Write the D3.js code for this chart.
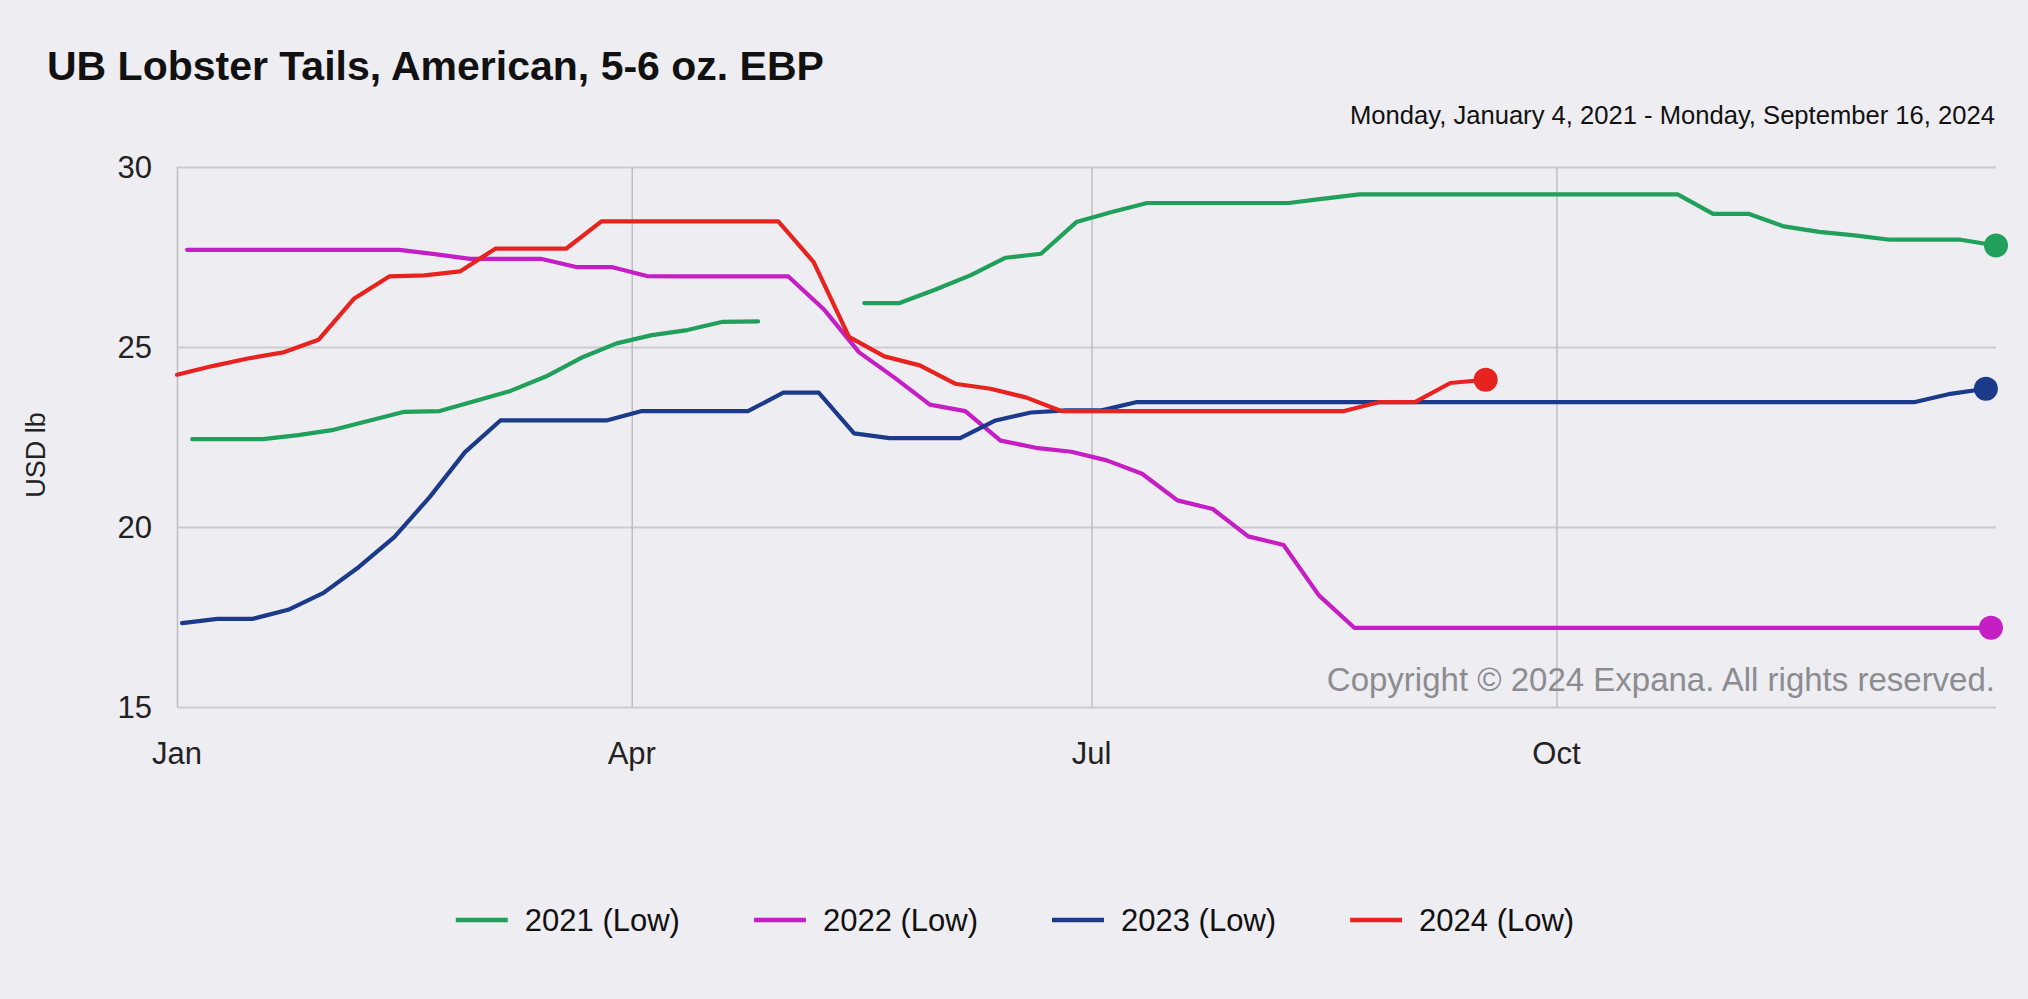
<!DOCTYPE html>
<html><head><meta charset="utf-8">
<script src="https://cdn.jsdelivr.net/npm/d3@7"></script>
<style>
html,body{margin:0;padding:0;background:#EEEDF2;}
svg{display:block;}
text{font-family:"Liberation Sans", Arial, sans-serif;}
</style></head><body>
<svg id="chart" width="2028" height="999"></svg>
<script>
// ---- data ----
const seriesNames = ["2021 (Low)", "2022 (Low)", "2023 (Low)", "2024 (Low)"];
const seriesColors = ["#20a05a", "#c41ec4", "#1b3a8a", "#e8231f"];
const seriesStart = ["2021-01-04", "2022-01-03", "2023-01-02", "2024-01-01"]; // weekly Mondays
const values2021 = [22.44,22.44,22.44,22.55,22.7,22.95,23.2,23.22,23.5,23.78,24.18,24.7,25.1,25.33,25.47,25.7,25.71,null,null,
  26.22,26.22,26.59,26.99,27.48,27.59,28.47,28.75,29.0,29.0,29.0,29.0,29.0,29.12,
  29.24,29.24,29.24,29.24,29.24,29.24,29.24,29.24,29.24,29.24,
  28.7,28.7,28.35,28.2,28.1,27.98,27.98,27.98,27.82];
const values2022 = [27.7,27.7,27.7,27.7,27.7,27.7,27.7,27.58,27.45,27.45,27.45,27.22,27.22,26.97,26.96,26.96,26.96,26.96,
  26.05,24.85,24.15,23.4,23.22,22.4,22.2,22.09,21.85,21.48,20.74,20.5,19.74,19.5,18.1,17.2,
  17.2,17.2,17.2,17.2,17.2,17.2,17.2,17.2,17.2,17.2,17.2,17.2,17.2,17.2,17.2,17.2,17.2,17.2];
const values2023 = [17.33,17.45,17.45,17.7,18.17,18.89,19.72,20.83,22.08,22.96,22.96,22.96,22.96,23.22,23.22,23.22,23.22,
  23.73,23.73,22.6,22.47,22.47,22.47,22.96,23.18,23.24,23.24,23.47,
  23.47,23.47,23.47,23.47,23.47,23.47,23.47,23.47,23.47,23.47,23.47,23.47,23.47,23.47,23.47,23.47,23.47,23.47,23.47,23.47,23.47,23.47,
  23.7,23.84];
const values2024 = [24.23,24.47,24.68,24.85,25.2,26.34,26.96,26.99,27.1,27.73,27.73,27.73,
  28.49,28.49,28.49,28.49,28.49,28.49,27.36,25.28,24.74,24.49,23.98,23.84,23.6,23.22,
  23.22,23.22,23.22,23.22,23.22,23.22,23.22,23.22,23.47,23.47,24.0,24.09];
const monthTickLabels = ["Jan", "Apr", "Jul", "Oct"];
const monthTickMonths = [0, 3, 6, 9];
const yTicks = [15, 20, 25, 30];
const titleText = "UB Lobster Tails, American, 5-6 oz. EBP";
const subtitleText = "Monday, January 4, 2021 - Monday, September 16, 2024";
const yAxisTitle = "USD lb";
const copyrightText = "Copyright \u00A9 2024 Expana. All rights reserved.";

// ---- build ----
const allValues = [values2021, values2022, values2023, values2024];
const parse = d3.utcParse("%Y-%m-%d");
const series = seriesNames.map((name, i) => {
  const start = parse(seriesStart[i]);
  const pts = allValues[i].map((v, k) => {
    const date = d3.utcDay.offset(start, 7 * k);
    return { doy: d3.utcDay.count(d3.utcYear(date), date), v };
  });
  return { name, color: seriesColors[i], pts };
});

const svg = d3.select("#chart");
const W = 2028, H = 999;
const m = { left: 177, right: 2028 - 1996, top: 167, bottom: 999 - 707 };

const maxDoy = d3.max(series, s => d3.max(s.pts, p => p.doy));
const x = d3.scaleLinear().domain([0, maxDoy]).range([m.left, W - m.right]);
const y = d3.scaleLinear().domain([15, 30]).range([H - m.bottom, m.top]);

const refYear = Date.UTC(2021, 0, 1);
const tickDoy = monthTickMonths.map(mo => d3.utcDay.count(new Date(refYear), new Date(Date.UTC(2021, mo, 1))));

// horizontal gridlines
svg.append("g").attr("transform", `translate(${m.left},0)`)
  .call(d3.axisLeft(y).tickValues(yTicks).tickSize(-(W - m.right - m.left)).tickFormat(""))
  .call(g => g.select(".domain").remove())
  .call(g => g.selectAll("line").attr("stroke", "#cbcbd0").attr("stroke-width", 2));

// vertical gridlines
svg.append("g").attr("transform", `translate(0,${H - m.bottom})`)
  .call(d3.axisBottom(x).tickValues(tickDoy).tickSize(-(H - m.bottom - m.top)).tickFormat(""))
  .call(g => g.select(".domain").remove())
  .call(g => g.selectAll("line").attr("stroke", "#bdbdc4").attr("stroke-width", 1.5));

// y tick labels
svg.append("g").selectAll("text").data(yTicks).join("text")
  .attr("x", 152).attr("y", d => y(d)).attr("dy", "0.35em")
  .attr("text-anchor", "end").attr("font-size", 31).attr("fill", "#222")
  .text(d => d);

// x tick labels
svg.append("g").selectAll("text").data(tickDoy).join("text")
  .attr("x", d => x(d)).attr("y", 764)
  .attr("text-anchor", "middle").attr("font-size", 31).attr("fill", "#222")
  .text((d, i) => monthTickLabels[i]);

// y axis title
svg.append("text").attr("transform", "translate(45,455) rotate(-90)")
  .attr("text-anchor", "middle").attr("font-size", 27).attr("fill", "#222")
  .text(yAxisTitle);

// title & subtitle
svg.append("text").attr("x", 47).attr("y", 80)
  .attr("font-size", 41).attr("font-weight", "bold").attr("fill", "#111")
  .text(titleText);
svg.append("text").attr("x", 1995).attr("y", 124).attr("text-anchor", "end")
  .attr("font-size", 25.6).attr("fill", "#111")
  .text(subtitleText);

// copyright
svg.append("text").attr("x", 1995).attr("y", 691).attr("text-anchor", "end")
  .attr("font-size", 33).attr("fill", "#8c8c90")
  .text(copyrightText);

// lines
const line = d3.line().defined(p => p.v != null).x(p => x(p.doy)).y(p => y(p.v));
const lg = svg.append("g");
lg.selectAll("path").data(series).join("path")
  .attr("fill", "none").attr("stroke", s => s.color).attr("stroke-width", 4.2)
  .attr("stroke-linejoin", "round").attr("stroke-linecap", "round")
  .attr("d", s => line(s.pts));

// end dots
lg.selectAll("circle").data(series).join("circle")
  .attr("cx", s => x(s.pts.filter(p => p.v != null).at(-1).doy))
  .attr("cy", s => y(s.pts.filter(p => p.v != null).at(-1).v))
  .attr("r", 12).attr("fill", s => s.color);

// legend
const leg = svg.append("g");
const items = leg.selectAll("g").data(series).join("g");
items.append("line").attr("x1", 0).attr("x2", 52).attr("y1", 0).attr("y2", 0)
  .attr("stroke", s => s.color).attr("stroke-width", 4.5);
items.append("text").attr("x", 69).attr("y", 0).attr("dy", "0.35em")
  .attr("font-size", 31).attr("fill", "#111").text(s => s.name);
const widths = [];
items.each(function () {
  widths.push(69 + this.querySelector("text").getComputedTextLength());
});
const gap = 74;
const total = d3.sum(widths) + gap * (widths.length - 1);
let start = 1015 - total / 2;
items.attr("transform", (d, i) => {
  const tx = start; start += widths[i] + gap;
  return `translate(${tx},920)`;
});
</script>
</body></html>
